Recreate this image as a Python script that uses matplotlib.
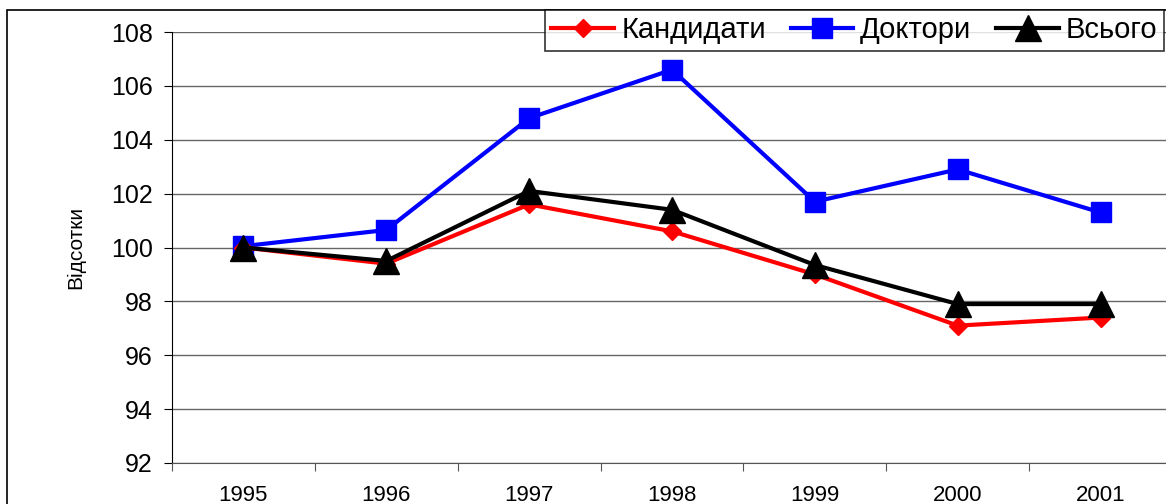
import matplotlib
matplotlib.use("Agg")
import matplotlib.pyplot as plt
from matplotlib.patches import Rectangle

years = ["1995", "1996", "1997", "1998", "1999", "2000", "2001"]
kandydaty = [100.0, 99.4, 101.6, 100.6, 99.0, 97.1, 97.4]
doktory = [100.05, 100.65, 104.8, 106.6, 101.7, 102.9, 101.3]
vsogo = [100.0, 99.5, 102.1, 101.4, 99.35, 97.9, 97.9]

plt.rcParams['font.family'] = ['Liberation Sans', 'DejaVu Sans']

fig = plt.figure(figsize=(11.66, 5.04), dpi=100)
ax = fig.add_axes([172 / 1166, 1 - 463 / 504, 1000 / 1166, (463 - 32) / 504])

# chart area frame
fig.patches.append(Rectangle((7 / 1166, -0.1), 1.2, 1.1 - 10 / 504,
                             transform=fig.transFigure, fill=False,
                             edgecolor='black', linewidth=1.2, zorder=0))

x = list(range(len(years)))
ax.plot(x, kandydaty, color='#ff0000', lw=3, marker='D', ms=9, label='Кандидати', zorder=3)
ax.plot(x, doktory, color='#0000ff', lw=3, marker='s', ms=14, label='Доктори', zorder=2)
ax.plot(x, vsogo, color='black', lw=3, marker='^', ms=19, label='Всього', zorder=4)

ax.set_ylim(92, 108)
ax.set_yticks(range(92, 109, 2))
ax.set_xlim(-0.5, len(years) - 0.5)
ax.set_xticks([i - 0.5 for i in range(len(years) + 1)])
ax.set_xticklabels([])
ax.set_xticks(x, minor=True)
ax.set_xticklabels(years, minor=True)
ax.tick_params(axis='x', which='major', length=6, color='#555555')
ax.tick_params(axis='x', which='minor', length=0, pad=16, labelsize=16)
ax.tick_params(axis='y', length=6, labelsize=18, pad=8)
ax.grid(axis='y', color='#666666', lw=1)
ax.set_axisbelow(True)
for s in ['top', 'right']:
    ax.spines[s].set_visible(False)
ax.spines['bottom'].set_color('#555555')
ax.spines['left'].set_color('black')
ax.set_ylabel('Відсотки', fontsize=15, labelpad=18)

leg = fig.legend(loc='upper left', bbox_to_anchor=(545 / 1166, 1 - 10 / 504), ncol=3,
                 fontsize=21, frameon=True, fancybox=False, edgecolor='black',
                 handlelength=2.15, columnspacing=0.85, handletextpad=0.24,
                 borderpad=0.22, borderaxespad=0)
leg.get_frame().set_linewidth(1.2)

fig.savefig('out.png', dpi=100)
